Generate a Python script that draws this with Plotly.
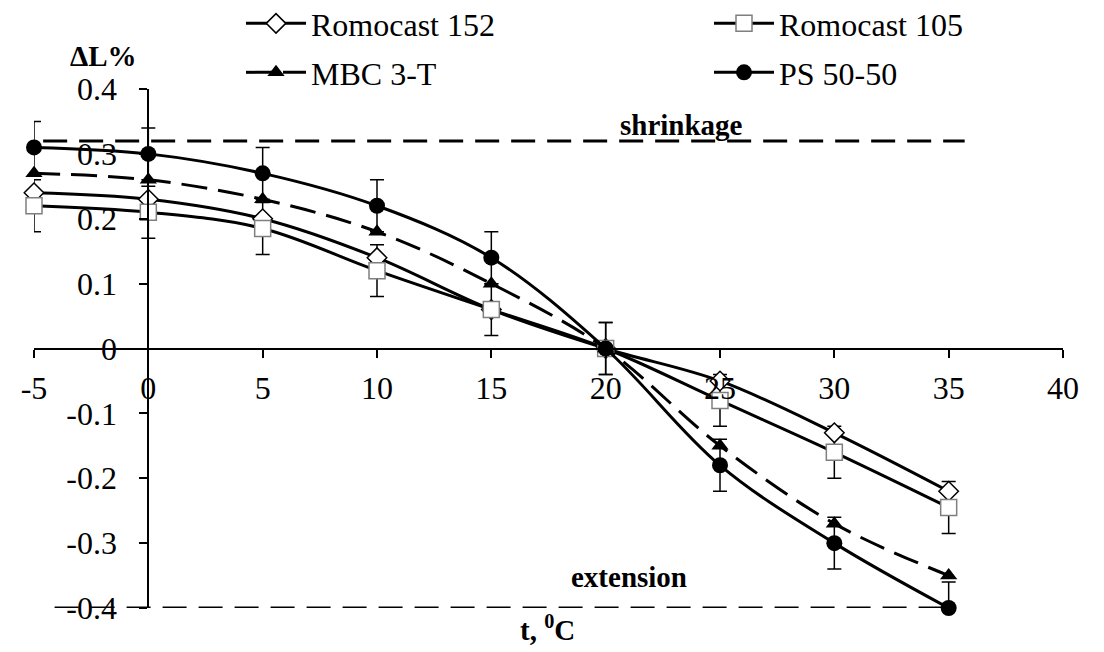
import plotly.graph_objects as go

# ---- data ----
temps = [-5, 0, 5, 10, 15, 20, 25, 30, 35]
romocast_152 = [0.24, 0.23, 0.20, 0.14, 0.06, 0.0, -0.05, -0.13, -0.22]
romocast_105 = [0.22, 0.21, 0.185, 0.12, 0.06, 0.0, -0.08, -0.16, -0.245]
mbc_3t = [0.27, 0.26, 0.23, 0.18, 0.10, 0.0, -0.15, -0.27, -0.35]
ps_50_50 = [0.31, 0.30, 0.27, 0.22, 0.14, 0.0, -0.18, -0.30, -0.40]
err_105 = [0.04] * 9
err_ps = [0.04] * 9

x_ticks = [-5, 0, 5, 10, 15, 20, 25, 30, 35, 40]
x_tick_text = ["-5", "0", "5", "10", "15", "20", "25", "30", "35", "40"]
y_ticks = [-0.4, -0.3, -0.2, -0.1, 0, 0.1, 0.2, 0.3, 0.4]
y_tick_text = ["-0.4", "-0.3", "-0.2", "-0.1", "0", "0.1", "0.2", "0.3", "0.4"]

shrinkage_level = [0.32, 0.32]
shrinkage_x = [-4.6, 35.7]
extension_level = [-0.4, -0.4]
extension_x = [-4.1, 35.0]

FONT = "Liberation Serif, Times New Roman, serif"
BLACK = "#000000"

fig = go.Figure()

# boundary dashed lines
fig.add_trace(go.Scatter(x=shrinkage_x, y=shrinkage_level, mode="lines",
                         line=dict(color=BLACK, width=3, dash="24px,12px"),
                         showlegend=False, hoverinfo="skip"))
fig.add_trace(go.Scatter(x=extension_x, y=extension_level, mode="lines",
                         line=dict(color=BLACK, width=3, dash="24px,12px"),
                         showlegend=False, hoverinfo="skip"))

# error bars (clipped to the plot area)
for yv, ev in [(romocast_105, err_105), (ps_50_50, err_ps)]:
    fig.add_trace(go.Scatter(x=temps, y=yv, mode="lines",
                             line=dict(width=0, color="rgba(0,0,0,0)"),
                             error_y=dict(type="data", array=ev, visible=True,
                                          color=BLACK, thickness=1.5, width=7),
                             cliponaxis=True, showlegend=False, hoverinfo="skip"))

common = dict(mode="lines+markers", line_shape="spline", cliponaxis=False)

fig.add_trace(go.Scatter(x=temps, y=romocast_152, name="Romocast 152", legend="legend",
                         line=dict(color=BLACK, width=3, smoothing=1),
                         marker=dict(symbol="diamond", size=15, color="white",
                                     line=dict(color=BLACK, width=1.5)), **common))
fig.add_trace(go.Scatter(x=temps, y=romocast_105, name="Romocast 105", legend="legend",
                         line=dict(color=BLACK, width=3, smoothing=1),
                         marker=dict(symbol="square", size=16, color="white",
                                     line=dict(color="#7f7f7f", width=1.5)), **common))
fig.add_trace(go.Scatter(x=temps, y=mbc_3t, name="MBC 3-T", legend="legend2",
                         line=dict(color=BLACK, width=3, dash="26px,11px", smoothing=1),
                         marker=dict(symbol="triangle-up", size=15, color=BLACK),
                         **common))
fig.add_trace(go.Scatter(x=temps, y=ps_50_50, name="PS 50-50", legend="legend2",
                         line=dict(color=BLACK, width=3, smoothing=1),
                         marker=dict(symbol="circle", size=16, color=BLACK),
                         **common))

# the page's default body margin is removed (post_script), so page px == figure px
W, H = 1104, 652
PL, PR, PT, PB = 34, 1063, 88.5, 608   # plot area edges in page pixels
L = PL
R = W - PR
T = PT
B = H - PB
pw = PR - PL
ph = PB - PT

def px_x(p):
    return (p - PL) / pw

def px_y(p):
    return (PB - p) / ph

legend_common = dict(orientation="h", font=dict(family=FONT, size=32, color=BLACK),
                     bgcolor="rgba(0,0,0,0)", entrywidth=393, entrywidthmode="pixels",
                     xanchor="left", yanchor="middle", traceorder="normal",
                     itemwidth=60)

fig.update_layout(
    width=W, height=H,
    margin=dict(l=L, r=R, t=T, b=B, pad=0, autoexpand=False),
    paper_bgcolor="white", plot_bgcolor="white",
    font=dict(family=FONT, size=32, color=BLACK),
    legend=dict(x=px_x(241), y=px_y(23), **legend_common),
    legend2=dict(x=px_x(241), y=px_y(72), **legend_common),
    xaxis=dict(range=[-5, 40], tickvals=x_ticks, ticktext=x_tick_text,
               showgrid=False, zeroline=False,
               showline=True, linecolor=BLACK, linewidth=2,
               ticks="outside", ticklen=8, tickwidth=2, tickcolor=BLACK,
               anchor="free", position=0.5, ticklabelstandoff=3,
               tickfont=dict(family=FONT, size=32, color=BLACK)),
    yaxis=dict(range=[-0.4, 0.4], tickvals=y_ticks, ticktext=y_tick_text,
               showgrid=False, zeroline=False,
               showline=True, linecolor=BLACK, linewidth=2,
               ticks="outside", ticklen=8, tickwidth=2, tickcolor=BLACK,
               anchor="free", position=5 / 45, ticklabelstandoff=16,
               tickfont=dict(family=FONT, size=32, color=BLACK)),
    showlegend=True,
)

fig.add_annotation(text="<b>ΔL%</b>", x=px_x(103), y=px_y(55), xref="paper", yref="paper",
                   xanchor="center", yanchor="middle",
                   showarrow=False, font=dict(family=FONT, size=29, color=BLACK))
fig.add_annotation(text="<b>t, <sup>0</sup>C</b>", x=px_x(547), y=px_y(628),
                   xref="paper", yref="paper", xanchor="center", yanchor="middle",
                   showarrow=False, font=dict(family=FONT, size=29, color=BLACK))
fig.add_annotation(text="<b>shrinkage</b>", x=px_x(681), y=px_y(125), xref="paper",
                   yref="paper", xanchor="center", yanchor="middle",
                   showarrow=False, font=dict(family=FONT, size=29, color=BLACK))
fig.add_annotation(text="<b>extension</b>", x=px_x(629), y=px_y(577), xref="paper",
                   yref="paper", xanchor="center", yanchor="middle",
                   showarrow=False, font=dict(family=FONT, size=29, color=BLACK))

fig.write_html(
    "out.html",
    config={"displayModeBar": False},
    post_script="document.body.style.margin='0';document.body.style.overflow='hidden';",
)
